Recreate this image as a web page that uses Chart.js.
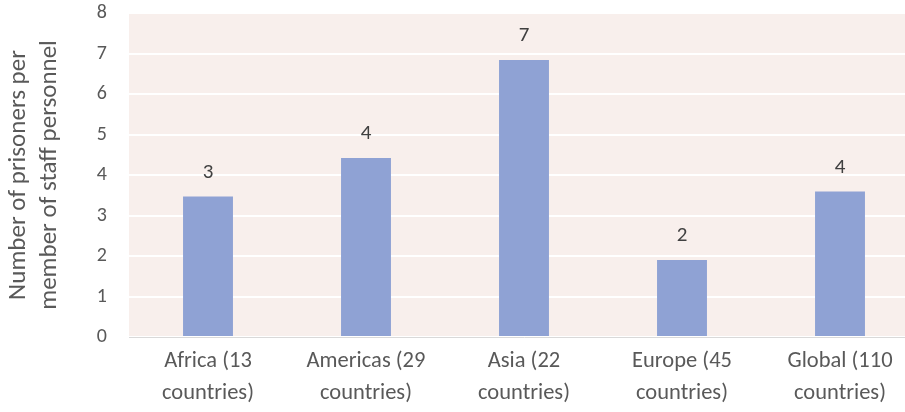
<!DOCTYPE html>
<html><head><meta charset="utf-8">
<script src="https://cdn.jsdelivr.net/npm/chart.js@4/dist/chart.umd.min.js"></script>
<style>
html,body{margin:0;padding:0;overflow:hidden;background:#fff;}
#wrap{width:920px;height:412px;position:relative;}
</style></head>
<body><div id="wrap"><canvas id="c"></canvas></div>
<script>
const categories = [["Africa (13","countries)"],["Americas (29","countries)"],["Asia (22","countries)"],["Europe (45","countries)"],["Global (110","countries)"]];
const values = [3.47, 4.42, 6.84, 1.9, 3.59];
const yTicks = [0,1,2,3,4,5,6,7,8];
const yTitle = ["Number of prisoners per","member of staff personnel"];
const FONT = 'Carlito, Lato';

const bgPlugin = {
  id:'bg',
  beforeDraw(chart){
    const {ctx, chartArea:a} = chart;
    ctx.save(); ctx.fillStyle = '#F8EFEC';
    ctx.fillRect(a.left, a.top, a.right-a.left, a.bottom-a.top);
    ctx.restore();
  }
};
const labelPlugin = {
  id:'lbl',
  afterDatasetsDraw(chart){
    const ctx = chart.ctx; const meta = chart.getDatasetMeta(0);
    ctx.save(); ctx.fillStyle = '#404040'; ctx.font = '21px ' + FONT;
    ctx.textAlign='center'; ctx.textBaseline='middle';
    meta.data.forEach((b,i)=>{ ctx.fillText(String(Math.round(values[i])), b.x, b.y-24); });
    ctx.restore();
  }
};

new Chart(document.getElementById('c'), {
  type:'bar',
  data:{labels:categories, datasets:[{data:values, backgroundColor:'#8FA2D4', borderWidth:0, categoryPercentage:1, barPercentage:0.316}]},
  options:{
    responsive:true, maintainAspectRatio:false, animation:false,
    layout:{padding:{top:13, right:1, left:0, bottom:0}},
    plugins:{legend:{display:false}, tooltip:{enabled:false}},
    scales:{
      x:{
        grid:{display:false, drawTicks:false},
        border:{color:'#D9D9D9', width:1},
        ticks:{color:'#595959', font:{family:FONT, size:22.5, lineHeight:1.4}, padding:9, maxRotation:0},
        afterFit(s){ s.height = 75; }
      },
      y:{
        min:0, max:8,
        afterBuildTicks(s){ s.ticks = yTicks.map(v=>({value:v})); },
        grid:{color:'#FFFFFF', lineWidth:2, drawTicks:false},
        border:{display:false},
        ticks:{color:'#595959', font:{family:FONT, size:20}, padding:22},
        title:{display:true, text:yTitle, color:'#595959', font:{family:FONT, size:25, lineHeight:1.25}, padding:{top:3,bottom:0}},
        afterFit(s){ s.width = 129; s.paddingTop = 0; s.paddingBottom = 0; }
      }
    }
  },
  plugins:[bgPlugin, labelPlugin]
});
</script></body></html>
